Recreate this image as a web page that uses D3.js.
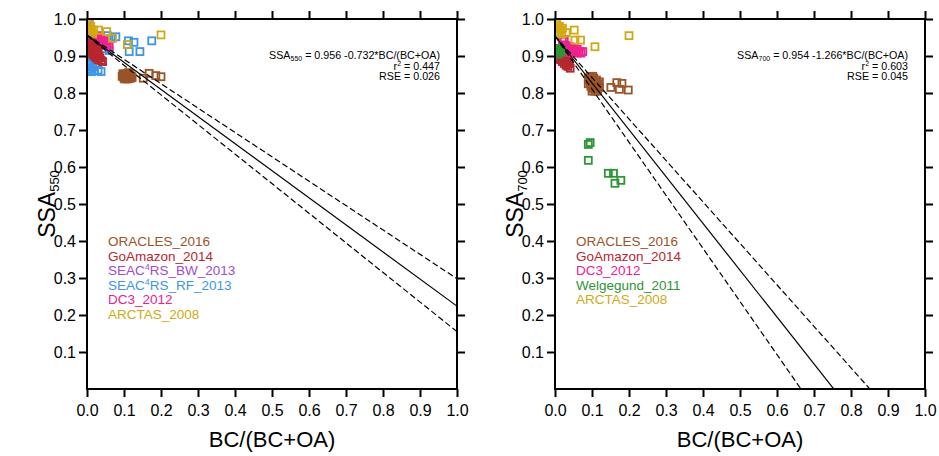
<!DOCTYPE html>
<html>
<head>
<meta charset="utf-8">
<script src="https://cdn.jsdelivr.net/npm/d3@7"></script>
<style>
  body { margin: 0; background: #fff; }
  svg { display: block; font-family: "Liberation Sans", Arial, Helvetica, sans-serif; }
  .axis text { font-size: 16px; fill: #000; }
  .axis line { stroke: #000; stroke-width: 2; }
  .axis path { display: none; }
</style>
</head>
<body>
<svg id="chart" width="939" height="456"></svg>
<script>
// tick labels
const xTicks = [0, 0.1, 0.2, 0.3, 0.4, 0.5, 0.6, 0.7, 0.8, 0.9, 1.0];
const yTicks = [0.1, 0.2, 0.3, 0.4, 0.5, 0.6, 0.7, 0.8, 0.9, 1.0];

// series colours
const colors = {
  ORACLES_2016: '#9b5427',
  GoAmazon_2014: '#b8262d',
  SEAC4RS_BW_2013: '#a24bd0',
  SEAC4RS_RF_2013: '#3a96ea',
  DC3_2012: '#f2208f',
  Welgegund_2011: '#2e9535',
  ARCTAS_2008: '#d2aa10'
};

// ---- left panel (SSA550) points [BC/(BC+OA), SSA] ----
const oracles550 = [[0.095,0.845],[0.1,0.85],[0.1,0.84],[0.105,0.852],[0.105,0.843],[0.11,0.848],
  [0.11,0.838],[0.115,0.852],[0.115,0.842],[0.12,0.846],[0.098,0.847],[0.108,0.845],[0.118,0.84],
  [0.102,0.838],[0.112,0.855],[0.122,0.842],[0.097,0.852],[0.107,0.85],[0.113,0.84],
  [0.152,0.84],[0.168,0.853],[0.186,0.847],[0.2,0.844]];
const goamazon550 = [[0.005,0.935],[0.008,0.925],[0.01,0.915],[0.012,0.93],[0.015,0.92],[0.015,0.905],
  [0.018,0.91],[0.02,0.9],[0.022,0.915],[0.025,0.895],[0.028,0.905],[0.03,0.89],[0.032,0.9],[0.035,0.895],
  [0.02,0.925],[0.01,0.94],[0.038,0.888],[0.042,0.885],[0.025,0.92],[0.03,0.91]];
const seacBW550 = [[0.003,0.99],[0.005,0.98],[0.004,0.97],[0.002,0.96],[0.006,0.995]];
const seacRF550 = [[0.002,0.95],[0.004,0.94],[0.002,0.93],[0.006,0.92],[0.003,0.91],[0.008,0.905],
  [0.002,0.895],[0.005,0.885],[0.01,0.88],[0.003,0.875],[0.007,0.865],[0.002,0.86],[0.012,0.858],
  [0.02,0.86],[0.03,0.862],[0.038,0.858],[0.015,0.87],[0.01,0.895],[0.015,0.935],[0.02,0.945],
  [0.03,0.94],[0.035,0.935],[0.045,0.93],[0.05,0.94],[0.045,0.92],[0.06,0.915],[0.055,0.955],
  [0.065,0.948],[0.078,0.952],[0.112,0.941],[0.127,0.937],[0.175,0.941],[0.114,0.912],[0.143,0.912]];
const dc3550 = [[0.02,0.94],[0.025,0.945],[0.03,0.95],[0.03,0.935],[0.035,0.94],[0.04,0.945],[0.04,0.93],
  [0.045,0.94],[0.05,0.935],[0.055,0.93],[0.025,0.93],[0.06,0.925],[0.035,0.955],[0.015,0.95]];
const arctas550 = [[0.005,0.985],[0.008,0.975],[0.01,0.965],[0.012,0.97],[0.015,0.96],[0.006,0.965],
  [0.018,0.97],[0.01,0.98],[0.031,0.97],[0.053,0.966],[0.069,0.948],[0.109,0.931],[0.2,0.957]];

// ---- right panel (SSA700) points ----
const oracles700 = [[0.09,0.84],[0.095,0.845],[0.1,0.835],[0.1,0.825],[0.105,0.815],[0.105,0.84],
  [0.11,0.83],[0.11,0.81],[0.115,0.82],[0.12,0.815],[0.095,0.83],[0.1,0.805],[0.115,0.805],
  [0.09,0.825],[0.105,0.828],[0.12,0.83],[0.097,0.818],[0.108,0.822],[0.112,0.835],[0.102,0.845],
  [0.118,0.825],[0.108,0.805],[0.093,0.835],[0.103,0.812],
  [0.151,0.815],[0.167,0.828],[0.181,0.826],[0.174,0.81],[0.198,0.808]];
const goamazon700 = [[0.008,0.905],[0.01,0.895],[0.012,0.91],[0.015,0.89],[0.018,0.9],[0.02,0.885],
  [0.022,0.895],[0.025,0.88],[0.028,0.89],[0.03,0.875],[0.033,0.885],[0.035,0.872],[0.015,0.905],
  [0.025,0.9],[0.041,0.867],[0.038,0.88]];
const dc3700 = [[0.02,0.94],[0.025,0.93],[0.03,0.928],[0.03,0.918],[0.035,0.922],[0.04,0.912],
  [0.045,0.918],[0.05,0.91],[0.055,0.914],[0.06,0.908],[0.065,0.912],[0.07,0.908],[0.075,0.912],
  [0.035,0.91],[0.04,0.925],[0.025,0.945],[0.05,0.92],[0.06,0.918]];
const welgegund700 = [[0.005,0.92],[0.01,0.915],[0.015,0.91],[0.008,0.905],[0.012,0.92],[0.018,0.915],
  [0.095,0.666],[0.09,0.661],[0.09,0.618],[0.144,0.583],[0.158,0.583],[0.162,0.556],[0.178,0.564]];
const arctas700 = [[0.005,0.985],[0.008,0.975],[0.01,0.965],[0.012,0.98],[0.015,0.97],[0.018,0.96],
  [0.006,0.96],[0.02,0.975],[0.03,0.963],[0.052,0.97],[0.054,0.943],[0.069,0.943],[0.108,0.925],
  [0.2,0.955]];

// fits: [intercept, slope] for fit, upper and lower bounds
const fit550 = { line: [0.956, -0.732], upper: [0.957, -0.659], lower: [0.955, -0.800],
  eq: ['550', '0.956 -0.732', '0.447', '0.026'] };
const fit700 = { line: [0.954, -1.266], upper: [0.954, -1.121], lower: [0.954, -1.435],
  eq: ['700', '0.954 -1.266', '0.603', '0.045'] };

const size = 370;
const x = d3.scaleLinear().domain([0, 1]).range([0, size]);
const y = d3.scaleLinear().domain([0, 1]).range([size, 0]);

const svg = d3.select('#chart');

function drawPanel(left, top, wl, series, fit) {
  const g = svg.append('g').attr('transform', `translate(${left},${top})`);

  g.append('defs').append('clipPath').attr('id', 'clip' + wl)
    .append('rect').attr('width', size).attr('height', size);

  // markers, drawn in order so the later ones sit on top
  const marks = g.append('g').attr('clip-path', `url(#clip${wl})`);
  series.forEach(s => {
    marks.selectAll(null)
      .data(s.pts)
      .enter().append('rect')
      .attr('x', d => x(d[0]) - 3.5)
      .attr('y', d => y(d[1]) - 3.5)
      .attr('width', 7)
      .attr('height', 7)
      .attr('fill', 'none')
      .attr('stroke', colors[s.name])
      .attr('stroke-width', 1.8);
  });

  // regression line and bounds
  const lines = g.append('g').attr('clip-path', `url(#clip${wl})`);
  [['line', null], ['upper', '6,3'], ['lower', '6,3']].forEach(([k, dash]) => {
    const [b, m] = fit[k];
    lines.append('line')
      .attr('x1', x(0)).attr('y1', y(b))
      .attr('x2', x(1)).attr('y2', y(b + m))
      .attr('stroke', '#000')
      .attr('stroke-width', 1.2)
      .attr('stroke-dasharray', dash);
  });

  // axes (ticks point outward on all four sides)
  g.append('g').attr('class', 'axis').attr('transform', `translate(0,${size})`)
    .call(d3.axisBottom(x).tickValues(xTicks).tickFormat(d3.format('.1f')).tickSize(8).tickPadding(8).tickSizeOuter(0));
  g.append('g').attr('class', 'axis')
    .call(d3.axisTop(x).tickValues(xTicks).tickFormat('').tickSize(8).tickSizeOuter(0));
  g.append('g').attr('class', 'axis')
    .call(d3.axisLeft(y).tickValues(yTicks).tickFormat(d3.format('.1f')).tickSize(8).tickPadding(3).tickSizeOuter(0));
  g.append('g').attr('class', 'axis').attr('transform', `translate(${size},0)`)
    .call(d3.axisRight(y).tickValues(yTicks).tickFormat('').tickSize(8).tickSizeOuter(0));

  g.append('rect')
    .attr('width', size).attr('height', size)
    .attr('fill', 'none').attr('stroke', '#000').attr('stroke-width', 2);

  // axis titles
  g.append('text')
    .attr('x', size / 2).attr('y', 428)
    .attr('text-anchor', 'middle')
    .attr('font-size', 22)
    .text('BC/(BC+OA)');

  const yl = g.append('text')
    .attr('transform', `translate(-32,${size / 2}) rotate(-90)`)
    .attr('text-anchor', 'middle')
    .attr('font-size', 23);
  yl.append('tspan').text('SSA');
  yl.append('tspan').attr('font-size', 13).attr('dy', 4).text(wl);

  // fit equation, right aligned
  const ex = size - 17;
  const fs = 10.7;
  const e1 = g.append('text').attr('x', ex).attr('y', 39.5).attr('text-anchor', 'end').attr('font-size', fs);
  e1.append('tspan').text('SSA');
  e1.append('tspan').attr('font-size', 7).attr('dy', 2).text(fit.eq[0]);
  e1.append('tspan').attr('dy', -2).text(` = ${fit.eq[1]}*BC/(BC+OA)`);
  const e2 = g.append('text').attr('x', ex).attr('y', 50.5).attr('text-anchor', 'end').attr('font-size', fs);
  e2.append('tspan').text('r');
  e2.append('tspan').attr('font-size', 7).attr('dy', -3.5).text('2');
  e2.append('tspan').attr('dy', 3.5).text(` = ${fit.eq[2]}`);
  g.append('text').attr('x', ex).attr('y', 61).attr('text-anchor', 'end').attr('font-size', fs)
    .text(`RSE = ${fit.eq[3]}`);

  // legend: coloured names, listed newest campaign first
  const legendOrder = series.slice().sort((a, b) => b.name.slice(-4) - a.name.slice(-4) || a.order - b.order);
  legendOrder.forEach((s, i) => {
    const t = g.append('text')
      .attr('x', 21).attr('y', 227 + i * 14.6)
      .attr('font-size', 13.5)
      .attr('fill', colors[s.name]);
    if (s.name.startsWith('SEAC4RS')) {
      t.append('tspan').text('SEAC');
      t.append('tspan').attr('font-size', 9).attr('dy', -5).text('4');
      t.append('tspan').attr('dy', 5).text(s.name.slice(5));
    } else {
      t.text(s.name);
    }
  });
}

drawPanel(87, 19, '550', [
  { name: 'SEAC4RS_RF_2013', pts: seacRF550, order: 1 },
  { name: 'SEAC4RS_BW_2013', pts: seacBW550, order: 0 },
  { name: 'DC3_2012', pts: dc3550 },
  { name: 'GoAmazon_2014', pts: goamazon550 },
  { name: 'ARCTAS_2008', pts: arctas550 },
  { name: 'ORACLES_2016', pts: oracles550 }
], fit550);

drawPanel(555, 19, '700', [
  { name: 'ORACLES_2016', pts: oracles700 },
  { name: 'GoAmazon_2014', pts: goamazon700 },
  { name: 'DC3_2012', pts: dc3700 },
  { name: 'Welgegund_2011', pts: welgegund700 },
  { name: 'ARCTAS_2008', pts: arctas700 }
], fit700);
</script>
</body>
</html>
